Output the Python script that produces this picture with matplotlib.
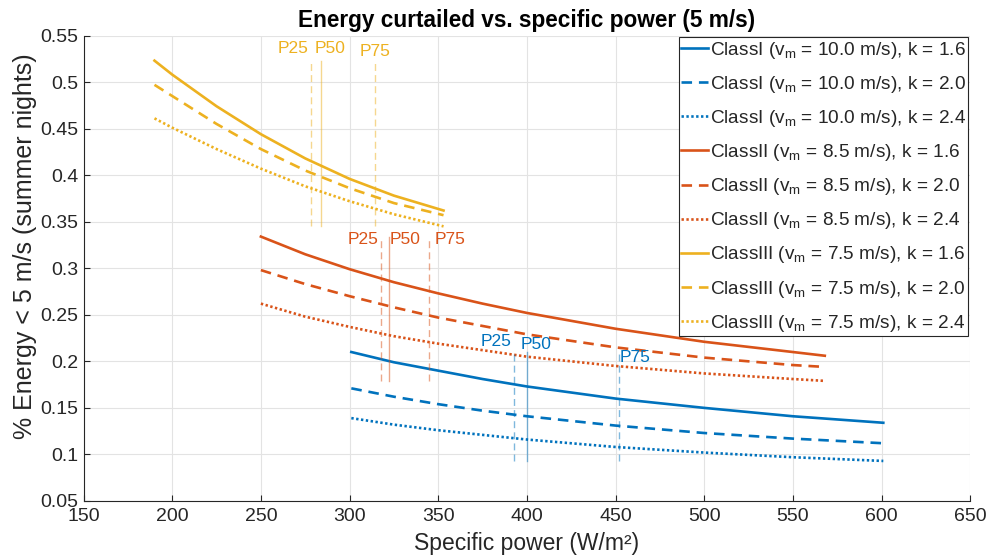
import matplotlib
matplotlib.use("Agg")
import matplotlib.pyplot as plt

plt.rcParams["font.family"] = ["Liberation Sans", "DejaVu Sans"]
plt.rcParams["mathtext.fontset"] = "custom"
plt.rcParams["mathtext.rm"] = "Liberation Sans"
plt.rcParams["mathtext.it"] = "Liberation Sans"

# ClassIII (v_m = 7.5 m/s)
x_class3 = [190, 200, 225, 250, 275, 300, 325, 353]
y_class3_k16 = [0.523, 0.508, 0.474, 0.444, 0.418, 0.396, 0.378, 0.362]
y_class3_k20 = [0.497, 0.485, 0.455, 0.428, 0.405, 0.386, 0.370, 0.357]
y_class3_k24 = [0.461, 0.451, 0.428, 0.407, 0.388, 0.372, 0.358, 0.345]

# ClassII (v_m = 8.5 m/s)
x_class2 = [250, 275, 300, 325, 350, 375, 400, 450, 500, 550, 568]
y_class2_k16 = [0.334, 0.315, 0.299, 0.285, 0.273, 0.262, 0.252, 0.235, 0.221, 0.210, 0.206]
y_class2_k20 = [0.298, 0.283, 0.270, 0.258, 0.247, 0.238, 0.229, 0.215, 0.204, 0.196, 0.194]
y_class2_k24 = [0.262, 0.248, 0.237, 0.227, 0.219, 0.212, 0.205, 0.195, 0.187, 0.181, 0.179]

# ClassI (v_m = 10.0 m/s)
x_class1 = [301, 325, 350, 375, 400, 450, 500, 550, 601]
y_class1_k16 = [0.210, 0.199, 0.190, 0.181, 0.173, 0.160, 0.150, 0.141, 0.134]
y_class1_k20 = [0.171, 0.162, 0.154, 0.147, 0.141, 0.131, 0.123, 0.117, 0.112]
y_class1_k24 = [0.139, 0.132, 0.126, 0.121, 0.116, 0.108, 0.102, 0.097, 0.093]

# specific power percentiles per class (P25, P50, P75)
pct_names = ["P25", "P50", "P75"]
pct_class1 = [393, 400, 452]
pct_class2 = [318, 322, 345]
pct_class3 = [278, 284, 314.5]

k_values = ["1.6", "2.0", "2.4"]
class_names = ["ClassI", "ClassII", "ClassIII"]
vm_values = ["10.0", "8.5", "7.5"]

BLUE = "#0072BD"
ORANGE = "#D95319"
YELLOW = "#EDB120"
TXT = "#262626"

# where the percentile texts sit (data coords)
label_pos = {
    "ClassI": [(382.7, 0.221), (405.3, 0.218), (461.2, 0.204)],
    "ClassII": [(307.4, 0.331), (331.3, 0.331), (356.5, 0.331)],
    "ClassIII": [(268.1, 0.536), (289.2, 0.536), (314.4, 0.533)],
}

classes = [
    ("ClassI", x_class1, [y_class1_k16, y_class1_k20, y_class1_k24], pct_class1, BLUE),
    ("ClassII", x_class2, [y_class2_k16, y_class2_k20, y_class2_k24], pct_class2, ORANGE),
    ("ClassIII", x_class3, [y_class3_k16, y_class3_k20, y_class3_k24], pct_class3, YELLOW),
]
styles = ["-", (0, (4, 2.6)), (0, (0.9, 0.95))]

fig = plt.figure(figsize=(9.9, 5.6), dpi=100)
ax = fig.add_axes([0.0844, 0.1054, 0.8956, 0.8312])

for (name, xs, ys_list, pcts, color), vm in zip(classes, vm_values):
    for ys, k, ls in zip(ys_list, k_values, styles):
        label = name + r" (v$_{\mathregular{m}}$ = " + vm + " m/s), k = " + k
        ax.plot(xs, ys, color=color, linestyle=ls, linewidth=1.9, label=label)

for name, xs, ys_list, pcts, color in classes:
    lo = min(min(ys) for ys in ys_list)
    hi = max(max(ys) for ys in ys_list)
    for i, (p, pname) in enumerate(zip(pcts, pct_names)):
        ls = "-" if pname == "P50" else (0, (5, 3))
        ax.plot([p, p], [lo, hi], color=color, linestyle=ls, linewidth=1.0, alpha=0.5)
        tx, ty = label_pos[name][i]
        ax.text(tx, ty, pname, color=color, fontsize=12.5, ha="center", va="center")

ax.set_xlim(150, 650)
ax.set_ylim(0.05, 0.55)
ax.set_xticks(range(150, 651, 50))
ax.set_yticks([0.05, 0.1, 0.15, 0.2, 0.25, 0.3, 0.35, 0.4, 0.45, 0.5, 0.55])
ax.set_yticklabels(["0.05", "0.1", "0.15", "0.2", "0.25", "0.3", "0.35", "0.4", "0.45", "0.5", "0.55"])
ax.grid(True, color="#e3e3e3", linewidth=0.8)
ax.set_axisbelow(True)
for side in ["top", "right"]:
    ax.spines[side].set_visible(False)
for side in ["left", "bottom"]:
    ax.spines[side].set_color("#262626")
    ax.spines[side].set_linewidth(0.8)
ax.tick_params(direction="in", length=4, width=0.8, colors=TXT, labelsize=14, labelcolor=TXT)
ax.tick_params(axis="x", pad=5)

ax.set_xlabel("Specific power (W/m²)", fontsize=16.5, color=TXT, labelpad=5)
ax.set_ylabel("% Energy < 5 m/s (summer nights)", fontsize=18, color=TXT)
ax.yaxis.set_label_coords(-0.053, 0.548)
ax.set_title("Energy curtailed vs. specific power (5 m/s)", fontsize=16.3, fontweight="bold",
             color="black", pad=6)

leg = ax.legend(loc="upper right", fontsize=13.7, frameon=True, fancybox=False,
                edgecolor="#262626", framealpha=1, handlelength=1.4, handletextpad=0.1,
                labelspacing=0.69, borderpad=0.12, borderaxespad=0.1)
leg.get_frame().set_linewidth(0.8)
for t in leg.get_texts():
    t.set_color(TXT)

fig.savefig("out.png", dpi=100)
